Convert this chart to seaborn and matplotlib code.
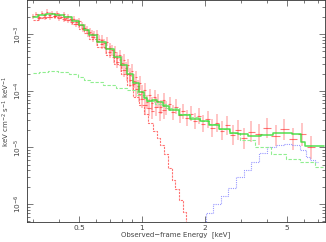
import numpy as np
import pandas as pd
import matplotlib
matplotlib.use("Agg")
import matplotlib.pyplot as plt
import seaborn as sns
from matplotlib.ticker import FixedLocator, NullFormatter, LogLocator

sns.set_theme(style="ticks")
plt.rcParams['font.family'] = ['DejaVu Sans']

# ---------------- data set 1 (log10 flux, keV cm^-2 s^-1 keV^-1) ----------------
data_E = [0.300, 0.310, 0.320, 0.330, 0.340, 0.350, 0.360, 0.370, 0.380, 0.390,
          0.400, 0.410, 0.420, 0.430, 0.440, 0.455, 0.470, 0.485, 0.500, 0.515,
          0.530, 0.545, 0.560, 0.575, 0.590, 0.605, 0.620, 0.640, 0.660, 0.680,
          0.700, 0.720, 0.740, 0.760, 0.780, 0.800, 0.820, 0.840, 0.860, 0.880,
          0.900, 0.920, 0.940, 0.960, 0.980, 1.000, 1.030, 1.060, 1.090, 1.120,
          1.150, 1.190, 1.230, 1.270, 1.310, 1.360, 1.410, 1.460, 1.520, 1.580,
          1.650, 1.720, 1.800, 1.880, 1.970, 2.070, 2.180, 2.300, 2.430, 2.570,
          2.730, 2.900, 3.100, 3.350, 3.650, 4.000, 4.400, 4.850, 5.350, 5.900,
          6.500]
data_logF = [-2.68, -2.64, -2.70, -2.62, -2.66, -2.60, -2.65, -2.62, -2.67, -2.63,
             -2.66, -2.69, -2.64, -2.71, -2.68, -2.73, -2.72, -2.78, -2.76, -2.83,
             -2.88, -2.92, -2.95, -2.99, -3.01, -3.00, -3.08, -3.10, -3.16, -3.13,
             -3.25, -3.28, -3.31, -3.42, -3.37, -3.50, -3.45, -3.60, -3.55, -3.72,
             -3.64, -3.82, -3.76, -3.92, -3.86, -4.02, -3.98, -4.20, -4.08, -4.22,
             -4.10, -4.18, -4.28, -4.16, -4.30, -4.23, -4.38, -4.28, -4.43, -4.36,
             -4.48, -4.40, -4.53, -4.44, -4.58, -4.50, -4.66, -4.57, -4.70, -4.61,
             -4.78, -4.69, -4.84, -4.72, -4.77, -4.66, -4.79, -4.68, -4.85, -4.77,
             -5.00]
data_dlog = [0.04, 0.04, 0.04, 0.04, 0.04, 0.04, 0.04, 0.04, 0.04, 0.04,
             0.04, 0.04, 0.04, 0.04, 0.04, 0.05, 0.05, 0.05, 0.05, 0.05,
             0.06, 0.06, 0.06, 0.07, 0.07, 0.07, 0.07, 0.08, 0.08, 0.08,
             0.09, 0.09, 0.10, 0.10, 0.10, 0.11, 0.11, 0.11, 0.12, 0.12,
             0.12, 0.12, 0.12, 0.12, 0.12, 0.12, 0.12, 0.12, 0.12, 0.12,
             0.12, 0.12, 0.12, 0.12, 0.12, 0.13, 0.13, 0.13, 0.13, 0.13,
             0.14, 0.14, 0.14, 0.14, 0.15, 0.15, 0.16, 0.16, 0.16, 0.17,
             0.17, 0.17, 0.18, 0.18, 0.18, 0.18, 0.19, 0.19, 0.19, 0.20,
             0.20]
data_dE = [0.005, 0.005, 0.005, 0.005, 0.005, 0.005, 0.005, 0.005, 0.005, 0.005,
           0.005, 0.005, 0.005, 0.005, 0.005, 0.007, 0.007, 0.007, 0.007, 0.007,
           0.007, 0.007, 0.007, 0.007, 0.007, 0.007, 0.008, 0.010, 0.010, 0.010,
           0.010, 0.010, 0.010, 0.010, 0.010, 0.010, 0.010, 0.010, 0.010, 0.010,
           0.010, 0.010, 0.010, 0.010, 0.010, 0.012, 0.015, 0.015, 0.015, 0.015,
           0.018, 0.020, 0.020, 0.020, 0.022, 0.025, 0.025, 0.028, 0.030, 0.032,
           0.035, 0.038, 0.040, 0.042, 0.045, 0.050, 0.055, 0.060, 0.065, 0.070,
           0.080, 0.090, 0.110, 0.130, 0.150, 0.180, 0.200, 0.230, 0.250, 0.280,
           0.300]

# ---------------- data set 2 (lower-sensitivity detector) ----------------
data2_E = [0.32, 0.34, 0.36, 0.38, 0.40, 0.42, 0.44, 0.46, 0.48, 0.50, 0.52,
           0.55, 0.58, 0.61, 0.64, 0.67, 0.70, 0.73, 0.76, 0.79, 0.82, 0.85,
           0.88, 0.91, 0.94, 0.97, 1.00, 1.04, 1.08, 1.12, 1.17, 1.22, 1.28]
data2_logF = [-2.71, -2.69, -2.70, -2.68, -2.71, -2.73, -2.74, -2.78, -2.81,
              -2.83, -2.88, -2.98, -3.05, -3.12, -3.17, -3.25, -3.31, -3.40,
              -3.48, -3.55, -3.63, -3.70, -3.80, -3.88, -3.97, -4.05, -4.15,
              -4.25, -4.30, -4.35, -4.28, -4.38, -4.33]
data2_dlog = [0.05, 0.05, 0.05, 0.05, 0.05, 0.05, 0.06, 0.06, 0.06, 0.06, 0.07,
              0.07, 0.08, 0.08, 0.09, 0.09, 0.10, 0.10, 0.11, 0.11, 0.12, 0.12,
              0.13, 0.13, 0.14, 0.14, 0.15, 0.15, 0.15, 0.15, 0.16, 0.16, 0.16]
data2_dE = [0.008, 0.008, 0.008, 0.008, 0.009, 0.009, 0.009, 0.009, 0.010,
            0.010, 0.010, 0.012, 0.012, 0.012, 0.012, 0.013, 0.013, 0.013,
            0.014, 0.014, 0.014, 0.015, 0.015, 0.015, 0.015, 0.016, 0.018,
            0.018, 0.020, 0.020, 0.022, 0.025, 0.028]

# ---------------- model components ----------------
tot_E = [0.30, 0.33, 0.36, 0.40, 0.44, 0.48, 0.52, 0.53, 0.58, 0.64, 0.70,
         0.76, 0.82, 0.88, 0.94, 1.00, 1.04, 1.08, 1.15, 1.22, 1.30, 1.40, 1.60,
         1.80, 2.00, 2.20, 2.50, 2.80, 3.00, 3.50, 4.00, 4.50, 5.00, 5.60, 6.00,
         6.20, 7.00, 7.50]
tot_logF = [-2.69, -2.66, -2.64, -2.65, -2.69, -2.76, -2.84, -2.92, -3.02,
            -3.14, -3.26, -3.40, -3.54, -3.70, -3.86, -4.02, -4.13, -4.17, -4.16,
            -4.19, -4.26, -4.33, -4.42, -4.49, -4.54, -4.60, -4.68, -4.74, -4.77,
            -4.79, -4.78, -4.75, -4.74, -4.76, -4.90, -4.98, -4.98, -4.98]

pl_E = [0.30, 0.34, 0.37, 0.42, 0.47, 0.52, 0.53, 0.60, 0.70, 0.80, 0.90,
        1.00, 1.10, 1.20, 1.40, 1.60, 1.80, 2.00, 2.20, 2.50, 2.75, 3.20, 3.80,
        4.60, 5.30, 6.20, 7.40]
pl_logF = [-3.69, -3.66, -3.65, -3.66, -3.70, -3.75, -3.81, -3.85, -3.90,
           -3.95, -3.99, -4.08, -4.17, -4.23, -4.31, -4.40, -4.47, -4.53, -4.59,
           -4.67, -4.74, -4.86, -5.00, -5.12, -5.21, -5.26, -5.35]

soft_E = [0.30, 0.33, 0.36, 0.40, 0.44, 0.48, 0.52, 0.53, 0.58, 0.64, 0.70,
          0.76, 0.82, 0.88, 0.94, 1.00, 1.05, 1.10, 1.15, 1.20, 1.25, 1.30, 1.36,
          1.42, 1.47, 1.53, 1.61, 1.66, 1.70]
soft_logF = [-2.74, -2.71, -2.69, -2.70, -2.74, -2.82, -2.90, -2.98, -3.09,
             -3.22, -3.36, -3.52, -3.70, -3.90, -4.10, -4.25, -4.40, -4.56, -4.70,
             -4.83, -4.96, -5.12, -5.36, -5.57, -5.74, -5.92, -6.14, -6.39, -6.60]

line_E = [1.95, 2.10, 2.30, 2.50, 2.70, 3.00, 3.20, 3.50, 3.80, 4.20, 4.60, 5.00,
          5.50, 6.00, 6.30, 6.60, 7.00]
line_logF = [-6.32, -6.15, -6.00, -5.85, -5.72, -5.52, -5.40, -5.25, -5.10, -5.00,
             -4.95, -4.93, -4.96, -5.05, -5.16, -5.22, -5.25]

# ---------------- figure ----------------
fig = plt.figure(figsize=(3.26, 2.42), dpi=100)
ax = fig.add_axes([0.083, 0.083, 0.914, 0.915])
ax.set_xscale("log")
ax.set_yscale("log")


def draw_data(E, logF, dlog, dE):
    F = 10.0 ** np.array(logF)
    dl = np.array(dlog)
    ylo = F - 10.0 ** (np.array(logF) - dl)
    yhi = 10.0 ** (np.array(logF) + dl) - F
    ax.errorbar(E, F, yerr=[ylo, yhi], fmt="none",
                ecolor="#ff4040", alpha=0.38, elinewidth=1.1, zorder=2)
    ax.errorbar(E, F, xerr=dE, fmt="none",
                ecolor="#ff2020", alpha=0.6, elinewidth=0.8, zorder=2)


draw_data(data_E, data_logF, data_dlog, data_dE)
draw_data(data2_E, data2_logF, data2_dlog, data2_dE)

tot = pd.DataFrame({"E": tot_E, "F": 10.0 ** np.array(tot_logF)})
pl = pd.DataFrame({"E": pl_E, "F": 10.0 ** np.array(pl_logF)})
soft = pd.DataFrame({"E": soft_E, "F": 10.0 ** np.array(soft_logF)})
ln = pd.DataFrame({"E": line_E, "F": 10.0 ** np.array(line_logF)})

sns.lineplot(data=soft, x="E", y="F", ax=ax, color="#ff5050", lw=0.8,
             drawstyle="steps-mid", linestyle=(0, (2, 1)), alpha=0.8, zorder=3)
sns.lineplot(data=ln, x="E", y="F", ax=ax, color="#8080ff", lw=0.8,
             drawstyle="steps-mid", linestyle=(0, (1, 1)), alpha=0.8, zorder=3)
sns.lineplot(data=pl, x="E", y="F", ax=ax, color="#90ee90", lw=0.8,
             drawstyle="steps-mid", linestyle=(0, (3, 1.5)), zorder=3)
sns.lineplot(data=tot, x="E", y="F", ax=ax, color="#33dd33", lw=1.1,
             drawstyle="steps-mid", alpha=0.85, zorder=4)

ax.set_xlim(0.28, 7.6)
ax.set_ylim(4.83e-7, 3.97e-3)

ax.xaxis.set_major_locator(FixedLocator([0.5, 1, 2, 5]))
ax.xaxis.set_minor_locator(FixedLocator([0.3, 0.4, 0.6, 0.7, 0.8, 0.9, 3, 4, 6, 7]))
ax.set_xticklabels(["0.5", "1", "2", "5"])
ax.xaxis.set_minor_formatter(NullFormatter())
ax.yaxis.set_major_locator(FixedLocator([1e-6, 1e-5, 1e-4, 1e-3]))
ax.yaxis.set_minor_locator(LogLocator(base=10, subs=np.arange(2, 10), numticks=20))
ax.yaxis.set_minor_formatter(NullFormatter())
ax.set_yticklabels(["$10^{-6}$", "$10^{-5}$", "$10^{-4}$", "$10^{-3}$"],
                   rotation=90, va="center")

ax.tick_params(which="both", direction="in", top=True, right=True,
               colors="#444444", labelsize=5.3, width=0.5, pad=2)
ax.tick_params(which="major", length=4)
ax.tick_params(which="minor", length=2)
for s in ax.spines.values():
    s.set_linewidth(0.6)
    s.set_color("#333333")

ax.set_xlabel("Observed\u2212frame Energy  [keV]", fontsize=5.0, color="#444444", labelpad=0.5)
ax.set_ylabel("keV cm$^{-2}$ s$^{-1}$ keV$^{-1}$", fontsize=5.0, color="#444444", labelpad=0.5)

fig.savefig("out.png", dpi=100)
